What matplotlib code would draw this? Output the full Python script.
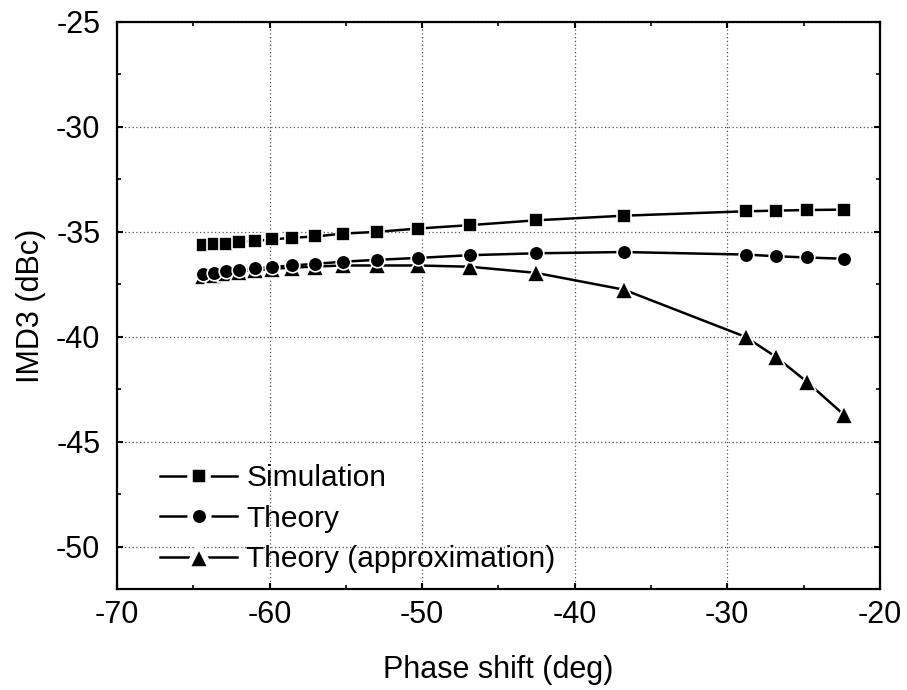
import matplotlib.pyplot as plt
from matplotlib.lines import Line2D
from matplotlib.ticker import MultipleLocator

plt.rcParams['font.family'] = ['Liberation Sans', 'DejaVu Sans']
plt.rcParams['axes.unicode_minus'] = False

# phase shift (deg)
phase = [-64.34, -63.62, -62.86, -61.99, -60.98, -59.82, -58.51, -57.0, -55.17,
         -52.94, -50.26, -46.87, -42.55, -36.78, -28.8, -26.81, -24.76, -22.36]

# IMD3 (dBc)
sim = [-35.64, -35.60, -35.56, -35.47, -35.43, -35.36, -35.28, -35.22, -35.08,
       -35.0, -34.84, -34.68, -34.45, -34.23, -34.02, -33.99, -33.96, -33.94]
theory = [-37.0, -36.94, -36.88, -36.81, -36.74, -36.67, -36.6, -36.52, -36.42,
          -36.33, -36.24, -36.11, -36.02, -35.96, -36.08, -36.16, -36.22, -36.28]
approx = [-37.1, -37.03, -36.96, -36.89, -36.82, -36.76, -36.7, -36.65, -36.6,
          -36.6, -36.6, -36.66, -36.95, -37.75, -40.0, -40.95, -42.15, -43.7]

labels = ['Simulation', 'Theory', 'Theory (approximation)']
markers = ['s', 'o', '^']
sizes = [10, 10.5, 12.5]
legend_sizes = [13.4, 13.4, 17.5]

fig = plt.figure(figsize=(9.07, 6.9), dpi=100)
ax = fig.add_axes([0.129, 0.1464, 0.841, 0.822])

# draw approximation first so circles sit on top of triangles
for ys, m, ms in zip([approx, theory, sim], markers[::-1], sizes[::-1]):
    ax.plot(phase, ys, color='black', lw=1.8, marker=m, markersize=ms,
            markeredgecolor='white', markeredgewidth=1.2)

ax.set_xlim(-70, -20)
ax.set_ylim(-52, -25)
ax.xaxis.set_major_locator(MultipleLocator(10))
ax.xaxis.set_minor_locator(MultipleLocator(5))
ax.yaxis.set_major_locator(MultipleLocator(5))
ax.yaxis.set_minor_locator(MultipleLocator(2.5))

ax.grid(True, which='major', linestyle=(0, (1, 2)), color='#555555', lw=0.9)
ax.tick_params(which='both', direction='in', top=True, right=True, labelsize=22)
ax.tick_params(axis='x', pad=8)
ax.tick_params(axis='y', pad=12)
ax.tick_params(which='major', length=4.5, width=1.5)
ax.tick_params(which='minor', length=3.2, width=1.2)
for s in ax.spines.values():
    s.set_linewidth(1.6)

ax.set_xlabel('Phase shift (deg)', fontsize=22, labelpad=18)
ax.set_ylabel('IMD3 (dBc)', fontsize=22, labelpad=7)

handles = [Line2D([], [], color='black', lw=1.8, marker=m, markersize=ms,
                  markeredgecolor='white', markeredgewidth=4)
           for m, ms in zip(markers, legend_sizes)]
ax.legend(handles, labels, loc='lower left', bbox_to_anchor=(0.056, 0.028),
          frameon=False, fontsize=21.5, handlelength=2.6, numpoints=1,
          labelspacing=0.42, handletextpad=0.3, borderpad=0, borderaxespad=0)

fig.savefig('out.png', dpi=100)
